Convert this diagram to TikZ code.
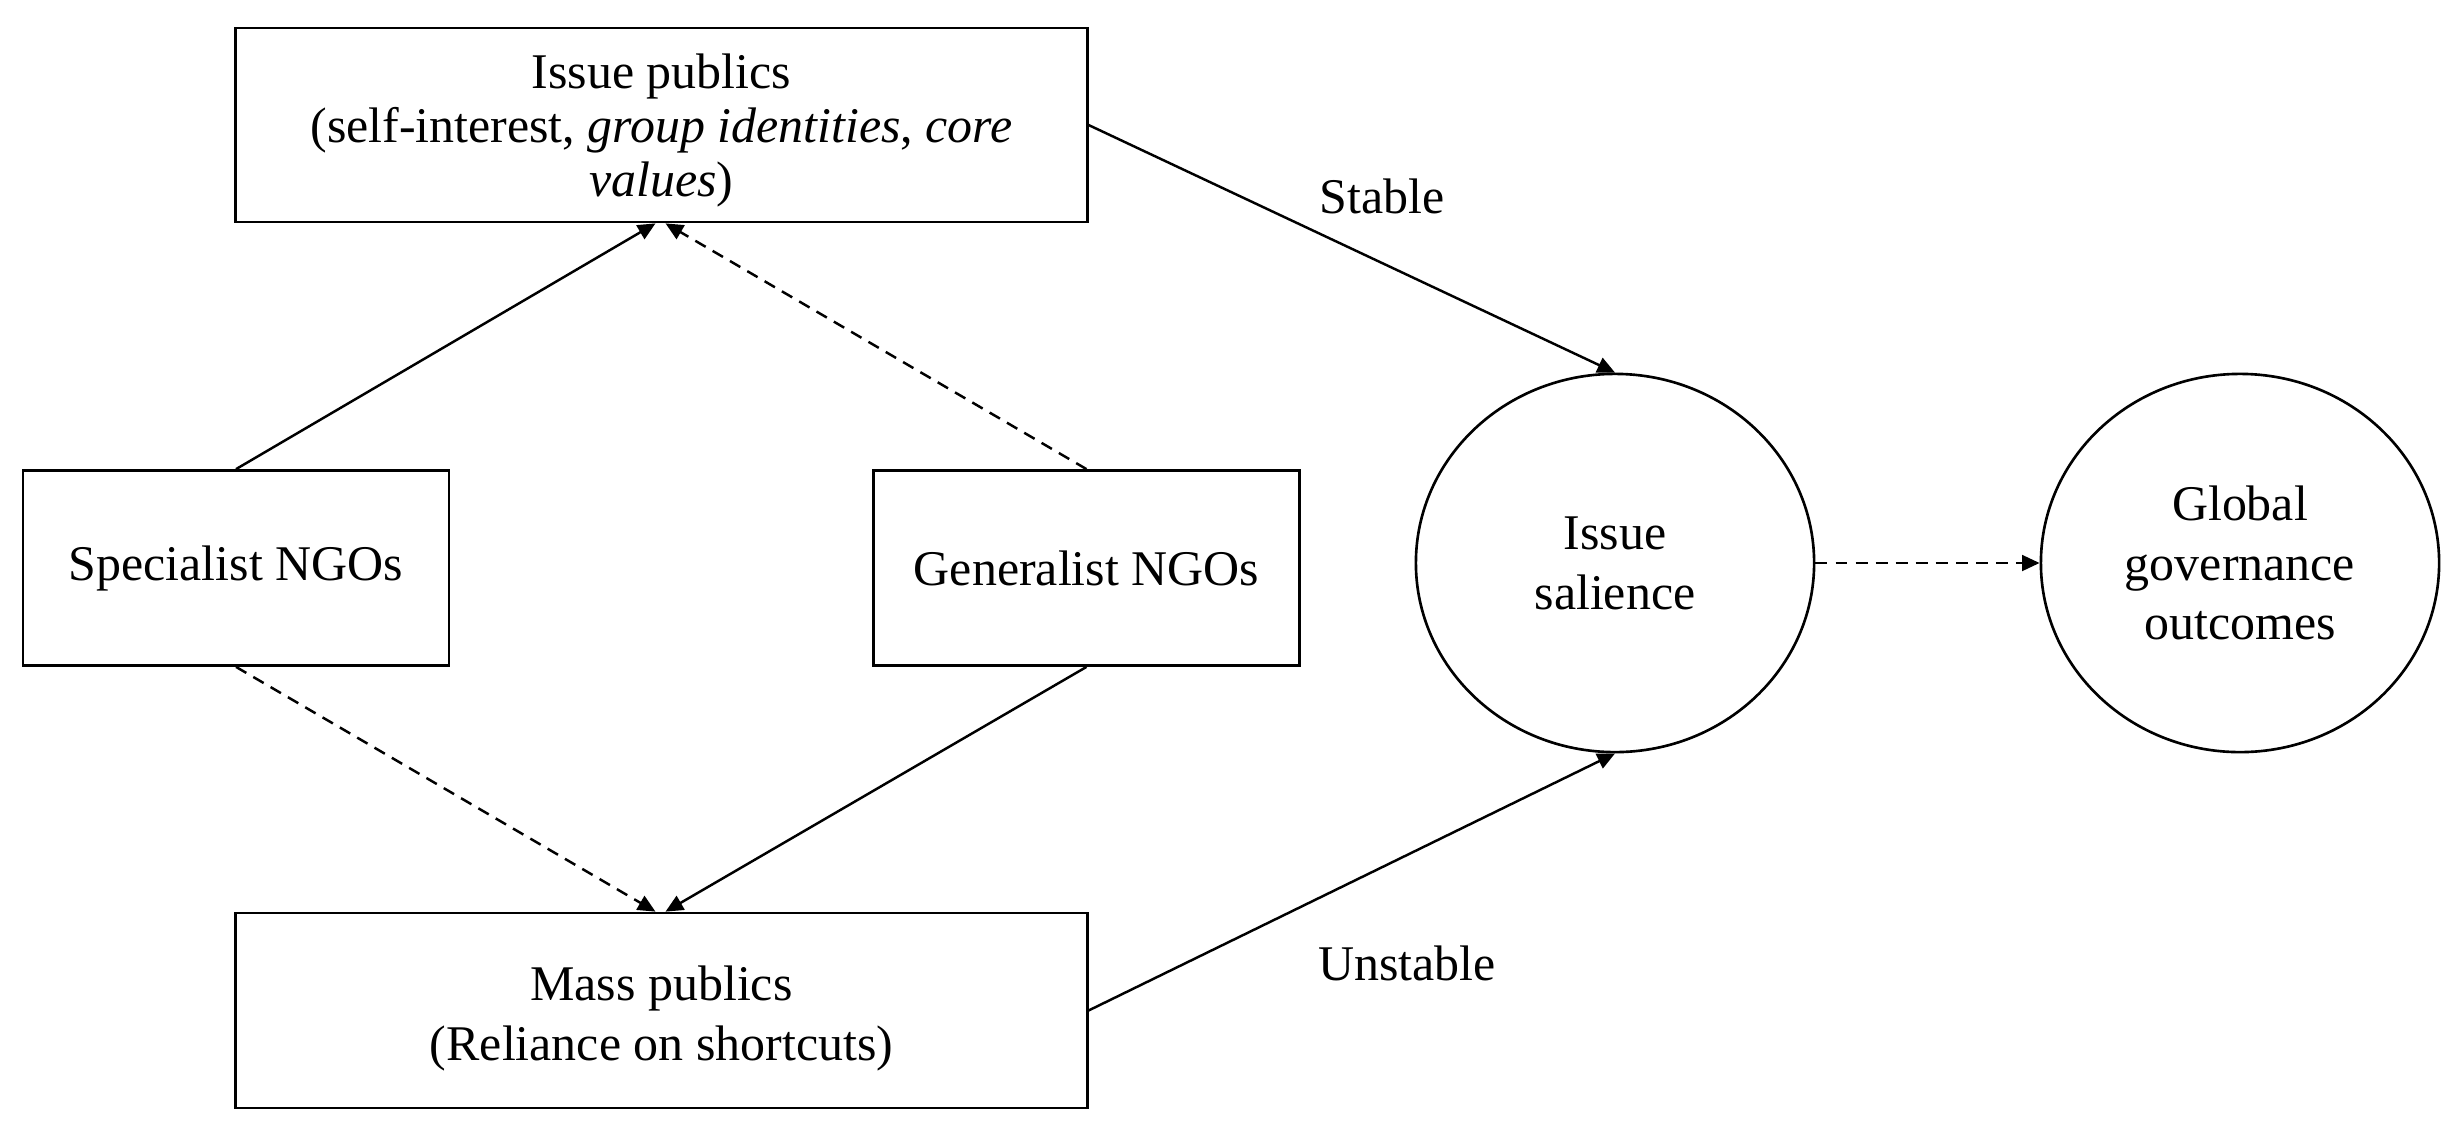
\documentclass[tikz,border=0pt]{standalone}
\usepackage{fontspec}
\setmainfont{Liberation Serif}
\usetikzlibrary{arrows.meta,shapes.geometric}
\begin{document}
\begin{tikzpicture}[x=0.01cm,y=-0.01cm,
  every node/.style={font=\fontsize{14.2pt}{17pt}\selectfont},
  box/.style={draw,line width=0.75pt,rectangle,inner sep=0pt,align=center},
  oval/.style={draw,line width=0.75pt,ellipse,inner sep=0pt,align=center,minimum width=3.98cm,minimum height=3.78cm},
  conn/.style={line width=0.7pt,-{Triangle[length=5pt,width=4.5pt]}},
  dashconn/.style={conn,dash pattern=on 3.4pt off 2.3pt},
  lbl/.style={inner sep=0pt}]
\useasboundingbox (0,0) rectangle (2458,1136);
\node[box,minimum width=8.51cm,minimum height=1.94cm,font=\fontsize{14.2pt}{15.4pt}\selectfont] (ip) at (661.5,125) {\rule{0pt}{13pt}Issue publics\\(self-interest, \textit{group identities}, \textit{core}\\\textit{values})};
\node[box,minimum width=4.26cm,minimum height=1.95cm] (sp) at (236,568) {Specialist NGOs};
\node[box,minimum width=4.26cm,minimum height=1.95cm] (gn) at (1086.5,568) {Generalist NGOs};
\node[box,minimum width=8.51cm,minimum height=1.95cm] (mp) at (661.5,1010.5) {\rule{0pt}{14.4pt}Mass publics\\(Reliance on shortcuts)};
\node[oval] (sal) at (1615,563) {Issue\\salience};
\node[oval] (ggo) at (2240,563) {Global\\governance\\outcomes};
\node[lbl] (st) at (1382,196) {Stable};
\node[lbl] (un) at (1407,963) {Unstable};
\draw[conn] (sp.north) -- ([xshift=-0.06cm]ip.south);
\draw[dashconn] (gn.north) -- ([xshift=0.04cm]ip.south);
\draw[dashconn] (sp.south) -- ([xshift=-0.06cm]mp.north);
\draw[conn] (gn.south) -- ([xshift=0.04cm]mp.north);
\draw[conn] (ip.east) -- (sal.north);
\draw[conn] (mp.east) -- (sal.south);
\draw[dashconn] (sal.east) -- (ggo.west);
\end{tikzpicture}
\end{document}
